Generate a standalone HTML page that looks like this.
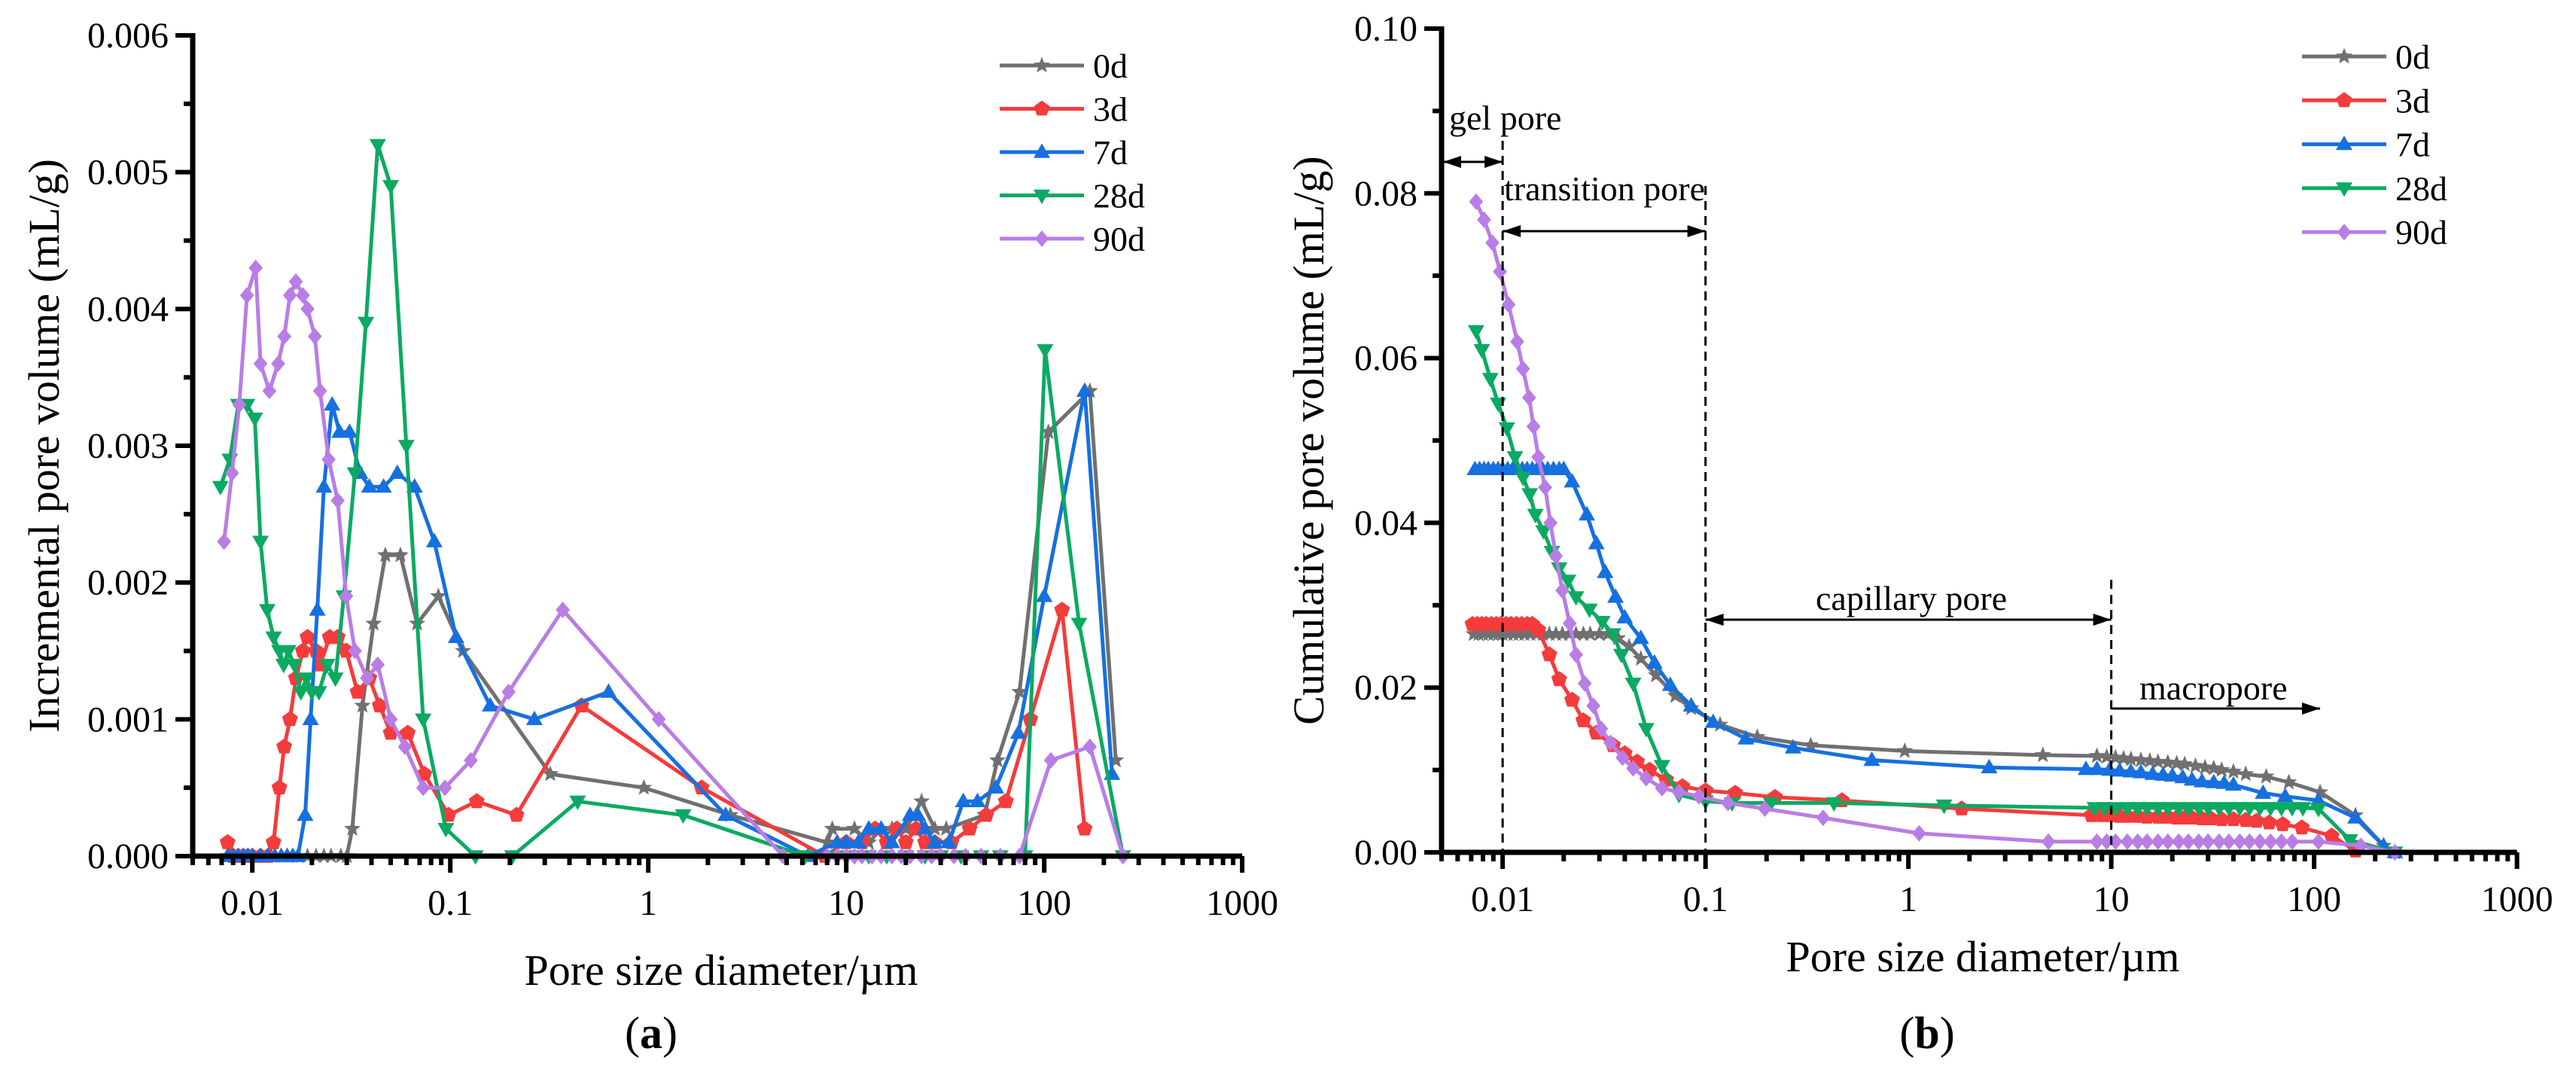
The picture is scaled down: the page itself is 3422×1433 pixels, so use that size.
<!DOCTYPE html>
<html><head><meta charset="utf-8"><style>
html,body{margin:0;padding:0;background:#fff}
svg{display:block;font-family:"Liberation Serif","Noto Serif CJK SC","DejaVu Serif",serif}
svg text{font-family:"Liberation Serif","Noto Serif CJK SC","DejaVu Serif",serif;fill:#000}
</style></head><body>
<svg id="chart" width="3422" height="1433" viewBox="0 0 3422 1433" xmlns="http://www.w3.org/2000/svg"></svg>
<script>
// ---------- Panel (a) data ----------
const seriesNames = ["0d","3d","7d","28d","90d"];
const a0x=[0.0075,0.008,0.0085,0.009,0.0095,0.01,0.011,0.012,0.013,0.014,0.015,0.016,0.017,0.019,0.021,0.023,0.025,0.028,0.030,0.032,0.036,0.041,0.047,0.056,0.068,0.087,0.116,0.32,0.95,2.6,8,8.5,11,13,15,17,20,24,28,32,50,58,75,105,170,230];
const a0y=[0,0,0,0,0,0,0,0,0,0,0,0,0,0,0,0,0,0,0,0.0002,0.0011,0.0017,0.0022,0.0022,0.0017,0.0019,0.0015,0.0006,0.0005,0.0003,0.0001,0.0002,0.0002,0.0001,0.0002,0.0002,0.0002,0.0004,0.0002,0.0002,0.0003,0.0007,0.0012,0.0031,0.0034,0.0007];
const a1x=[0.0075,0.008,0.0085,0.009,0.0095,0.01,0.011,0.012,0.0128,0.0137,0.0145,0.0155,0.0166,0.018,0.019,0.021,0.022,0.0246,0.027,0.0298,0.034,0.039,0.044,0.05,0.061,0.074,0.098,0.136,0.216,0.46,1.86,7.8,10,12,14,16,18,20,22.5,25,28,34,42,51,64,85,123,160];
const a1y=[0.0001,0,0,0,0,0,0,0,0.0001,0.0005,0.0008,0.001,0.0013,0.0015,0.0016,0.0015,0.0014,0.0016,0.0016,0.0015,0.0012,0.0013,0.0011,0.0009,0.0009,0.0006,0.0003,0.0004,0.0003,0.0011,0.0005,0,0.0001,0.0001,0.0002,0.0001,0.0002,0.0001,0.0002,0.0001,0.0001,0.0001,0.0002,0.0003,0.0004,0.001,0.0018,0.0002];
const a2x=[0.0075,0.008,0.0085,0.009,0.0095,0.01,0.011,0.012,0.013,0.014,0.015,0.016,0.017,0.0185,0.0197,0.0213,0.023,0.0253,0.0276,0.031,0.035,0.039,0.046,0.054,0.066,0.083,0.107,0.159,0.266,0.63,2.46,6.4,9,10,11.5,13,15,17,21,23,25,28,33,39,46,57,74,100,160,220];
const a2y=[0,0,0,0,0,0,0,0,0,0,0,0,0,0.0003,0.001,0.0018,0.0027,0.0033,0.0031,0.0031,0.0028,0.0027,0.0027,0.0028,0.0027,0.0023,0.0016,0.0011,0.001,0.0012,0.0003,0,0.0001,0.0001,0.0001,0.0002,0.0002,0.0001,0.0003,0.0003,0.0002,0.0001,0.0001,0.0004,0.0004,0.0005,0.0009,0.0019,0.0034,0.0006];
const a3x=[0.0069,0.0077,0.0085,0.0094,0.0103,0.011,0.0119,0.0128,0.0137,0.0144,0.0152,0.0163,0.0176,0.0188,0.02,0.0217,0.0239,0.0263,0.029,0.033,0.0375,0.043,0.05,0.06,0.073,0.095,0.134,0.206,0.44,1.5,6.2,9,11,13,16,20,25,30,38,48,60,80,101,150,250];
const a3y=[0.0027,0.0029,0.0033,0.0033,0.0032,0.0023,0.0018,0.0016,0.0015,0.0014,0.0015,0.0014,0.0012,0.0013,0.0012,0.0012,0.0014,0.0013,0.0019,0.0028,0.0039,0.0052,0.0049,0.003,0.001,0.0002,0,0,0.0004,0.0003,0,0,0,0,0,0,0,0,0,0,0,0,0.0037,0.0017,0];
const a4x=[0.0072,0.0079,0.0086,0.0094,0.0104,0.011,0.0122,0.0135,0.0145,0.0155,0.0166,0.018,0.019,0.0207,0.022,0.0243,0.027,0.0298,0.033,0.038,0.043,0.05,0.059,0.073,0.094,0.127,0.197,0.37,1.13,4.8,8,9,10,11,12,13.5,15,17,19,21,24,27,30,35,40,48,60,75,108,170,250];
const a4y=[0.0023,0.0028,0.0033,0.0041,0.0043,0.0036,0.0034,0.0036,0.0038,0.0041,0.0042,0.0041,0.004,0.0038,0.0034,0.0029,0.0026,0.0019,0.0015,0.0013,0.0014,0.001,0.0008,0.0005,0.0005,0.0007,0.0012,0.0018,0.001,0,0,0,0,0,0,0,0,0,0,0,0,0,0,0,0,0,0,0,0.0007,0.0008,0];

// ---------- Panel (b) data ----------
const b0x=[0.0072,0.0076,0.008,0.0085,0.009,0.0095,0.01,0.0106,0.0113,0.012,0.0128,0.0137,0.0147,0.0158,0.017,0.0183,0.0197,0.0213,0.023,0.025,0.027,0.03,0.033,0.037,0.042,0.048,0.057,0.071,0.085,0.118,0.18,0.33,0.96,4.6,8.5,9.5,10.5,11.5,12.5,14,15.5,17,19,21,23,26,29,32,35,40,46,58,75,107,160,220,250];
const b0y=[0.0265,0.0265,0.0265,0.0265,0.0265,0.0265,0.0265,0.0265,0.0265,0.0265,0.0265,0.0265,0.0265,0.0265,0.0265,0.0265,0.0265,0.0265,0.0265,0.0265,0.0265,0.0265,0.0265,0.026,0.025,0.0235,0.0215,0.019,0.0175,0.0155,0.014,0.013,0.0123,0.0118,0.0117,0.0116,0.0115,0.0114,0.0113,0.0112,0.0111,0.011,0.0109,0.0108,0.0107,0.0105,0.0103,0.0102,0.01,0.0098,0.0095,0.0092,0.0085,0.0073,0.0045,0.0008,0];
const b1x=[0.0071,0.0075,0.0079,0.0083,0.0088,0.0093,0.0098,0.0104,0.011,0.0117,0.0124,0.0132,0.014,0.015,0.017,0.019,0.022,0.025,0.029,0.035,0.04,0.046,0.053,0.064,0.077,0.1,0.14,0.22,0.47,1.83,8,9,10,11,12,13.5,15,17,19,21,23,25,28,31,35,40,46,52,60,70,87,122,160];
const b1y=[0.0277,0.0277,0.0277,0.0277,0.0277,0.0277,0.0277,0.0277,0.0277,0.0277,0.0277,0.0277,0.0277,0.027,0.024,0.021,0.0185,0.016,0.0145,0.013,0.012,0.011,0.01,0.0088,0.008,0.0075,0.0072,0.0067,0.0063,0.0053,0.0045,0.0045,0.0045,0.0044,0.0044,0.0044,0.0043,0.0043,0.0043,0.0042,0.0042,0.0042,0.0041,0.0041,0.0040,0.0040,0.0039,0.0038,0.0036,0.0034,0.003,0.002,0.0002];
const b2x=[0.0073,0.0077,0.0081,0.0085,0.009,0.0095,0.01,0.0106,0.0112,0.0118,0.0125,0.0132,0.014,0.0148,0.0157,0.0167,0.0178,0.019,0.02,0.022,0.026,0.029,0.032,0.036,0.04,0.048,0.056,0.067,0.085,0.109,0.158,0.27,0.66,2.5,7.5,8.5,9.8,11,12.5,14,16,18,20,22.5,25,28,32,36,40,56,72,105,160,220,250];
const b2y=[0.0465,0.0465,0.0465,0.0465,0.0465,0.0465,0.0465,0.0465,0.0465,0.0465,0.0465,0.0465,0.0465,0.0465,0.0465,0.0465,0.0465,0.0465,0.0465,0.045,0.041,0.0375,0.034,0.031,0.0285,0.026,0.023,0.0203,0.0178,0.0158,0.0138,0.0127,0.0112,0.0103,0.0101,0.0101,0.01,0.0099,0.0098,0.0097,0.0095,0.0094,0.0093,0.0091,0.0088,0.0086,0.0085,0.0084,0.0082,0.0072,0.0068,0.0063,0.0042,0.0008,0];
const b3x=[0.0074,0.0079,0.0087,0.0095,0.0105,0.0115,0.0126,0.0136,0.0145,0.0159,0.0175,0.019,0.021,0.023,0.0268,0.031,0.035,0.0385,0.044,0.051,0.061,0.074,0.1,0.135,0.21,0.43,1.5,8.3,9.3,10.5,12,13.5,15,17,19,21.5,24,27,30,34,38,43,48,54,61,69,78,88,105,150,250];
const b3y=[0.0633,0.061,0.0575,0.0545,0.0515,0.048,0.0455,0.0435,0.041,0.039,0.0365,0.0345,0.033,0.031,0.0295,0.028,0.0265,0.024,0.0205,0.015,0.0105,0.007,0.0062,0.006,0.006,0.006,0.0057,0.0054,0.0054,0.0054,0.0054,0.0054,0.0054,0.0054,0.0054,0.0054,0.0054,0.0054,0.0054,0.0054,0.0054,0.0054,0.0054,0.0054,0.0054,0.0054,0.0054,0.0054,0.0053,0.0015,0];
const b4x=[0.0074,0.0081,0.0089,0.0097,0.0107,0.0118,0.0126,0.0135,0.0142,0.015,0.0162,0.0172,0.0183,0.0197,0.0214,0.023,0.0254,0.028,0.0306,0.034,0.039,0.044,0.051,0.061,0.074,0.093,0.129,0.196,0.38,1.13,4.9,8.5,9.5,10.5,12,13.5,15,17,19,21.5,24,27,30,34,38,43,48,54,61,69,78,105,170,250];
const b4y=[0.079,0.0768,0.074,0.0705,0.0665,0.062,0.0587,0.0552,0.0517,0.048,0.0443,0.04,0.036,0.0318,0.0278,0.024,0.0205,0.0178,0.015,0.0133,0.0115,0.0102,0.009,0.0078,0.0073,0.0068,0.006,0.0053,0.0042,0.0023,0.0013,0.0013,0.0013,0.0013,0.0013,0.0013,0.0013,0.0013,0.0013,0.0013,0.0013,0.0013,0.0013,0.0013,0.0013,0.0013,0.0013,0.0013,0.0013,0.0013,0.0013,0.0013,0.0008,0];

const aYTicks=["0.000","0.001","0.002","0.003","0.004","0.005","0.006"];
const bYTicks=["0.00","0.02","0.04","0.06","0.08","0.10"];
const xTickLabels=["0.01","0.1","1","10","100","1000"];

const colors=["#707070","#f53b3b","#1670e0","#0aaa62","#b97de6"];
const markers=["star","pent","tri","tridown","diamond"];
const NS="http://www.w3.org/2000/svg";
const svg=document.getElementById("chart");
function mk(tag,attrs,parent){const e=document.createElementNS(NS,tag);for(const k in attrs)e.setAttribute(k,attrs[k]);(parent||svg).appendChild(e);return e;}

function markerPath(type,cx,cy,r){
  let pts=[];
  if(type==="star"){for(let i=0;i<10;i++){const a=-Math.PI/2+i*Math.PI/5;const rr=i%2?r*0.45:r*1.05;pts.push([cx+rr*Math.cos(a),cy+rr*Math.sin(a)]);}}
  else if(type==="pent"){for(let i=0;i<5;i++){const a=-Math.PI/2+i*2*Math.PI/5;pts.push([cx+r*Math.cos(a),cy+r*Math.sin(a)]);}}
  else if(type==="tri"){pts=[[cx,cy-r*1.05],[cx+r,cy+r*0.7],[cx-r,cy+r*0.7]];}
  else if(type==="tridown"){pts=[[cx,cy+r*1.05],[cx+r,cy-r*0.7],[cx-r,cy-r*0.7]];}
  else {pts=[[cx,cy-r],[cx+r*0.85,cy],[cx,cy+r],[cx-r*0.85,cy]];}
  return "M"+pts.map(p=>p[0].toFixed(1)+","+p[1].toFixed(1)).join("L")+"Z";
}

function panel(cfg){
  const g=mk("g",{});
  
  
  const xs=v=>cfg.x0+(Math.log10(v)-Math.log10(0.005))*cfg.dec;
  const ys=v=>cfg.y0-(v/cfg.ymax)*(cfg.y0-cfg.ytop);
  const xEnd=xs(1000);
  cfg.series.forEach((s,i)=>{
    const sg=mk("g",{},g);
    
    
    const d=s[0].map((v,j)=>(j?"L":"M")+xs(v).toFixed(1)+","+ys(s[1][j]).toFixed(1)).join("");
    mk("path",{d:d,fill:"none",stroke:colors[i],"stroke-width":5,"stroke-linejoin":"round"},sg);
    s[0].forEach((v,j)=>{
      const m=mk("path",{d:markerPath(markers[i],xs(v),ys(s[1][j]),11),fill:colors[i]},sg);
      
      
    });
  });
  const ax=mk("g",{},g);
  
  
  mk("path",{d:`M${cfg.x0},${cfg.ytop-3}L${cfg.x0},${cfg.y0}L${xEnd},${cfg.y0}`,fill:"none",stroke:"#000","stroke-width":7},ax);
  const n=cfg.yTicks.length-1;
  for(let k=0;k<=n;k++){
    const v=cfg.ymax*k/n, y=ys(v);
    mk("line",{x1:cfg.x0-23,y1:y,x2:cfg.x0,y2:y,stroke:"#000","stroke-width":6},ax);
    const t=mk("text",{x:cfg.x0-32,y:y+16,"font-size":48,"text-anchor":"end"},ax);
    t.textContent=cfg.yTicks[k];
    
    
    if(k<n){const ym=ys(v+cfg.ymax/n/2);mk("line",{x1:cfg.x0-12,y1:ym,x2:cfg.x0,y2:ym,stroke:"#000","stroke-width":6},ax);}
  }
  for(let e=-3;e<=3;e++){
    for(let m=1;m<10;m++){
      const v=m*Math.pow(10,e);
      if(v<0.005-1e-9||v>1000+1e-9)continue;
      const x=xs(v);
      mk("line",{x1:x,y1:cfg.y0,x2:x,y2:cfg.y0+(m===1?22:12),stroke:"#000","stroke-width":6},ax);
      if(m===1){
        const t=mk("text",{x:x,y:cfg.y0+78,"font-size":48,"text-anchor":"middle"},ax);
        t.textContent=xTickLabels[e+2];
        
        
      }
    }
  }
  const xt=mk("text",{x:cfg.xtX,y:cfg.xtY,"font-size":58,"text-anchor":"middle"},g);
  xt.textContent="Pore size diameter/\u00b5m";
  
  
  const yt=mk("text",{x:0,y:0,"font-size":58,"text-anchor":"middle",transform:`translate(${cfg.ytX},${cfg.ytY}) rotate(-90)`},g);
  yt.textContent=cfg.ytitle;
  
  
  const pl=mk("text",{x:cfg.plX,y:1392,"font-size":60,"text-anchor":"middle"},g);
  pl.innerHTML=`(<tspan font-weight="bold">${cfg.letter}</tspan>)`;
  
  
  const lg=mk("g",{},g);
  
  
  seriesNames.forEach((nm,i)=>{
    const y=cfg.legY+i*cfg.legDy;
    const le=mk("g",{},lg);
    
    
    mk("line",{x1:cfg.legX,y1:y,x2:cfg.legX+112,y2:y,stroke:colors[i],"stroke-width":5},le);
    mk("path",{d:markerPath(markers[i],cfg.legX+56,y,11),fill:colors[i]},le);
    const t=mk("text",{x:cfg.legX+124,y:y+16,"font-size":46},le);
    t.textContent=nm;
  });
  return {xs,ys,g};
}

panel({name:"panel-a",x0:256,dec:263,y0:1137,ytop:47,ymax:0.006,yTicks:aYTicks,
  series:[[a0x,a0y],[a1x,a1y],[a2x,a2y],[a3x,a3y],[a4x,a4y]],
  xtX:958,xtY:1308,ytX:78,ytY:592,ytitle:"Incremental pore volume (mL/g)",plX:865,letter:"a",
  legX:1328,legY:87,legDy:57.5});

const pb=panel({name:"panel-b",x0:1915,dec:269.5,y0:1132,ytop:38,ymax:0.1,yTicks:bYTicks,
  series:[[b0x,b0y],[b1x,b1y],[b2x,b2y],[b3x,b3y],[b4x,b4y]],
  xtX:2634,xtY:1290,ytX:1758,ytY:585,ytitle:"Cumulative pore volume (mL/g)",plX:2560,letter:"b",
  legX:3058,legY:75,legDy:58.3});

const ann=mk("g",{});


function vdash(v,ytop){mk("line",{x1:pb.xs(v),y1:ytop,x2:pb.xs(v),y2:1132,stroke:"#000","stroke-width":3,"stroke-dasharray":"12,8"},ann);}
vdash(0.01,187);vdash(0.1,247);vdash(10,770);
function arrowHead(x,y,dir){mk("path",{d:`M${x},${y}L${x-dir*24},${y-8}L${x-dir*24},${y+8}Z`,fill:"#000"},ann);}
function harrow(x1,x2,y,both){mk("line",{x1:x1,y1:y,x2:x2,y2:y,stroke:"#000","stroke-width":3},ann);arrowHead(x2,y,1);if(both)arrowHead(x1,y,-1);}
harrow(1917,pb.xs(0.01),215,true);
harrow(pb.xs(0.01),pb.xs(0.1),307,true);
harrow(pb.xs(0.1),pb.xs(10),823,true);
harrow(pb.xs(10),3082,941,false);
function lab(txt,x,y,name){const t=mk("text",{x:x,y:y,"font-size":46},ann);t.textContent=txt;}
lab("gel pore",1925,172,"gel-pore-label");
lab("transition pore",1998,266,"transition-pore-label");
lab("capillary pore",2412,810,"capillary-pore-label");
lab("macropore",2842,929,"macropore-label");
</script>
</body></html>
